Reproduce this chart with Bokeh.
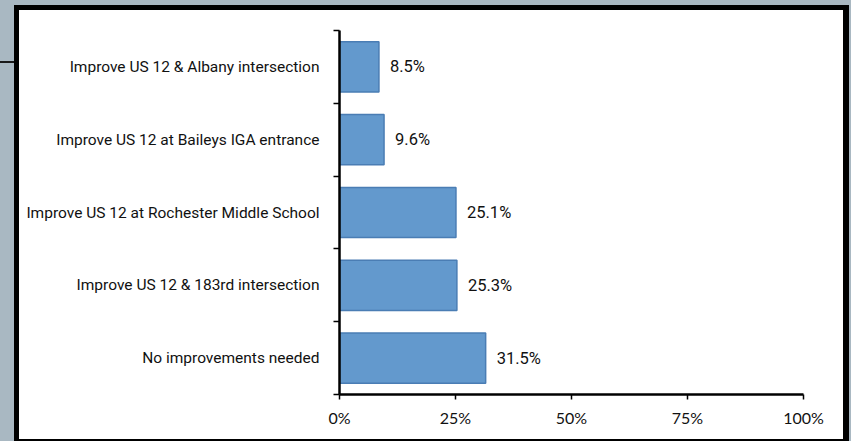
from bokeh.plotting import figure
from bokeh.models import FixedTicker, Range1d, Spacer
from bokeh.layouts import column, row
from bokeh.core.properties import value
from bokeh.embed import file_html
from bokeh.resources import INLINE

# Data (bottom to top)
categories = [
    "No improvements needed",
    "Improve US 12 & 183rd intersection",
    "Improve US 12 at Rochester Middle School",
    "Improve US 12 at Baileys IGA entrance",
    "Improve US 12 & Albany intersection",
]
shares = [0.315, 0.253, 0.251, 0.096, 0.085]
value_labels = ["31.5%", "25.3%", "25.1%", "9.6%", "8.5%"]
x_ticks = [0, 0.25, 0.5, 0.75, 1.0]
x_tick_labels = ["0%", "25%", "50%", "75%", "100%"]

centers = [i + 0.5 for i in range(len(categories))]
bounds = [float(i) for i in range(len(categories) + 1)]

LABEL_FONT = "Roboto"
W, H = 824, 429

p = figure(
    width=W, height=H,
    x_range=Range1d(0, 1), y_range=Range1d(0, len(categories)),
    output_backend="svg", toolbar_location=None,
    min_border_left=320, min_border_right=40,
    min_border_top=20, min_border_bottom=45,
)
p.background_fill_color = "white"
p.border_fill_color = "white"
p.outline_line_color = None
p.xgrid.visible = False
p.ygrid.visible = False

p.hbar(y=centers, left=0, right=shares, height=0.69,
       fill_color="#6399CD", line_color="#4A7DB4", line_width=1.5)

p.text(x=shares, y=centers, text=value_labels, x_offset=11,
       text_baseline="middle", text_align="left",
       text_font=value(LABEL_FONT), text_font_size="16.5px",
       text_color="#111111")

# Y axis
ya = p.yaxis[0]
ya.ticker = FixedTicker(ticks=centers, minor_ticks=bounds)
ya.major_label_overrides = {c: n for c, n in zip(centers, categories)}
ya.major_tick_line_color = None
ya.major_tick_out = 0
ya.major_tick_in = 0
ya.minor_tick_out = 6
ya.minor_tick_in = 0
ya.minor_tick_line_color = "black"
ya.minor_tick_line_width = 1.5
ya.axis_line_color = "black"
ya.axis_line_width = 2.5
ya.major_label_standoff = 14
ya.major_label_text_font = LABEL_FONT
ya.major_label_text_font_size = "15.5px"
ya.major_label_text_color = "#111111"

# X axis
xa = p.xaxis[0]
xa.ticker = FixedTicker(ticks=x_ticks, minor_ticks=[])
xa.major_label_overrides = {t: l for t, l in zip(x_ticks, x_tick_labels)}
xa.major_tick_out = 5
xa.major_tick_in = 0
xa.major_tick_line_width = 1.5
xa.major_tick_line_color = "black"
xa.axis_line_color = "black"
xa.axis_line_width = 2.5
xa.major_label_standoff = 8
xa.major_label_text_font = "Lato"
xa.major_label_text_font_size = "16px"
xa.major_label_text_color = "#111111"

GRAY = "#A9B8C2"
BLACK = {"background-color": "black"}
boxed = row(
    Spacer(width=5, height=H + 7, styles=BLACK),
    column(
        Spacer(width=W, height=5, styles=BLACK),
        p,
        Spacer(width=W, height=2, styles=BLACK),
        spacing=0,
    ),
    Spacer(width=6, height=H + 7, styles=BLACK),
    spacing=0,
)
middle = column(
    Spacer(width=W + 11, height=5, styles={"background-color": GRAY}),
    boxed,
    spacing=0,
)
layout = row(
    Spacer(width=14, height=H + 12, styles={
        "background": "linear-gradient(#1a1a1a, #1a1a1a) 0px 61px / 14px 2px no-repeat, " + GRAY}),
    middle,
    Spacer(width=2, height=H + 12, styles={"background-color": GRAY}),
    spacing=0,
)

open("out.html", "w").write(file_html(layout, INLINE))
